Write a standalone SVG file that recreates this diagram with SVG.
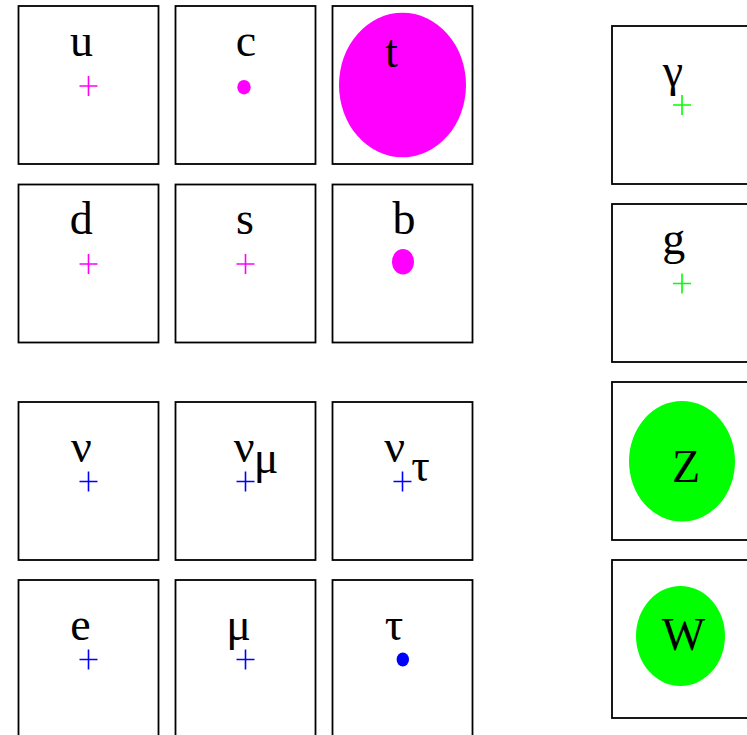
<svg xmlns="http://www.w3.org/2000/svg" width="747" height="735" viewBox="0 0 747 735">
<style>
.box{fill:none;stroke:#000;stroke-width:1.8}
.lbl{font-family:"Liberation Serif","Times New Roman",serif;font-size:46px;fill:#000;text-anchor:middle}
.cm{stroke:#ff00ff;stroke-width:1.6;fill:none}
.cb{stroke:#0000ff;stroke-width:1.6;fill:none}
.cg{stroke:#00ff00;stroke-width:1.6;fill:none}
</style>
<defs>
<path id="cross" d="M-9 0H9M0 -10V10"/>
</defs>
<rect width="747" height="735" fill="#fff"/>
<g id="connectors"></g>
<g id="u"><rect class="box" x="18.5" y="6" width="140" height="158"/><text class="lbl" x="81.5" y="56">u</text><use href="#cross" class="cm" x="88.5" y="86"/></g>
<g id="c"><rect class="box" x="175.5" y="6" width="140" height="158"/><text class="lbl" x="246" y="56">c</text><ellipse cx="244" cy="87.2" rx="6.7" ry="7.2" fill="#ff00ff"/></g>
<g id="t"><rect class="box" x="332.5" y="6" width="140" height="158"/><ellipse cx="402.5" cy="85" rx="63.5" ry="72.3" fill="#ff00ff"/><text class="lbl" x="391.5" y="66.5">t</text></g>
<g id="d"><rect class="box" x="18.5" y="184.5" width="140" height="158"/><text class="lbl" x="81.3" y="234.3">d</text><use href="#cross" class="cm" x="88.5" y="264"/></g>
<g id="s"><rect class="box" x="175.5" y="184.5" width="140" height="158"/><text class="lbl" x="245" y="234.3">s</text><use href="#cross" class="cm" x="245.5" y="264"/></g>
<g id="b"><rect class="box" x="332.5" y="184.5" width="140" height="158"/><text class="lbl" x="404" y="233.5">b</text><ellipse cx="403" cy="261.8" rx="11" ry="12.8" fill="#ff00ff"/></g>
<g id="nu_e"><rect class="box" x="18.5" y="402" width="140" height="158"/><text class="lbl" x="81.5" y="461.7">ν</text><use href="#cross" class="cb" x="88.5" y="481.5"/></g>
<g id="nu_mu"><rect class="box" x="175.5" y="402" width="140" height="158"/><text class="lbl" x="244.2" y="461.7">ν</text><text class="lbl" x="266" y="472.7">μ</text><use href="#cross" class="cb" x="245.5" y="481.5"/></g>
<g id="nu_tau"><rect class="box" x="332.5" y="402" width="140" height="158"/><text class="lbl" x="394.7" y="461.7">ν</text><text class="lbl" x="420.5" y="480.7">τ</text><use href="#cross" class="cb" x="402.5" y="481.5"/></g>
<g id="e"><rect class="box" x="18.5" y="580" width="140" height="158"/><text class="lbl" x="80.5" y="640">e</text><use href="#cross" class="cb" x="88.5" y="659.5"/></g>
<g id="mu"><rect class="box" x="175.5" y="580" width="140" height="158"/><text class="lbl" x="238.7" y="640">μ</text><use href="#cross" class="cb" x="245.5" y="659.5"/></g>
<g id="tau"><rect class="box" x="332.5" y="580" width="140" height="158"/><text class="lbl" x="394" y="640">τ</text><ellipse cx="402.8" cy="659.5" rx="6.2" ry="7" fill="#0000ff"/></g>
<g id="gamma"><rect class="box" x="612" y="26" width="140" height="158"/><text class="lbl" x="673" y="86">γ</text><use href="#cross" class="cg" x="682" y="105"/></g>
<g id="g"><rect class="box" x="612" y="204" width="140" height="158"/><text class="lbl" x="673.7" y="254">g</text><use href="#cross" class="cg" x="682" y="283.5"/></g>
<g id="Z"><rect class="box" x="612" y="382" width="140" height="158"/><ellipse cx="682" cy="461.3" rx="53" ry="60.3" fill="#00ff00"/><text class="lbl" x="686" y="481.7">Z</text></g>
<g id="W"><rect class="box" x="612" y="560" width="140" height="158"/><ellipse cx="680.5" cy="636" rx="44.5" ry="50" fill="#00ff00"/><text class="lbl" x="683.5" y="650">W</text></g>
</svg>
